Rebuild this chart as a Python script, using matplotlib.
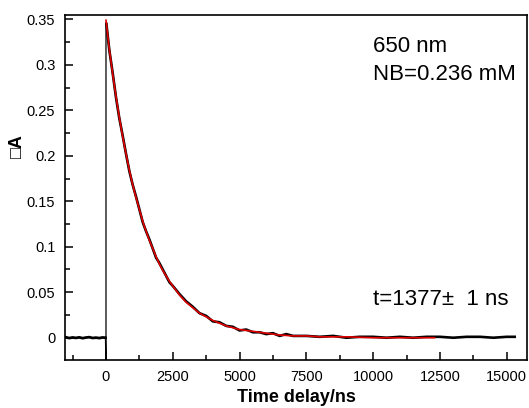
import numpy as np
import matplotlib
matplotlib.use('Agg')
import matplotlib.pyplot as plt
from matplotlib.ticker import MultipleLocator

plt.rcParams['font.family'] = ['Liberation Sans', 'DejaVu Sans']

# black trace before the laser pulse (ns, dA)
time_pre = [-1500, -1375, -1250, -1125, -1000, -875, -750, -625, -500, -375, -250, -125, -20]
signal_pre = [0.0005, -0.0004, 0.0003, -0.0002, 0.0004, -0.0005, 0.0002, 0.0006, -0.0003, 0.0001, -0.0004, 0.0003, 0.0]

# jump at t = 0
time_jump = [-20, 0, 0, 15]
signal_jump = [0.0, -0.03, 0.346, 0.345]

# black trace after the pulse
time_post = [15, 125, 250, 375, 500, 625, 750, 875, 1000, 1125, 1250, 1375, 1500,
             1625, 1750, 1875, 2000, 2125, 2250, 2375, 2500, 2750, 3000,
             3250, 3500, 3750, 4000, 4250, 4500, 4750, 5000, 5250, 5500, 5750, 6000,
             6250, 6500, 6750, 7000, 7500, 8000, 8500, 9000, 9500, 10000, 10500,
             11000, 11500, 12000, 12500, 13000, 13500, 14000, 14500, 15000, 15300]
signal_post = [0.345, 0.316, 0.291, 0.264, 0.241, 0.222, 0.202, 0.183, 0.168, 0.155,
               0.141, 0.127, 0.117, 0.108, 0.098, 0.088, 0.082, 0.075, 0.068, 0.061,
               0.057, 0.048, 0.040, 0.034, 0.027, 0.024, 0.018, 0.017, 0.013, 0.012,
               0.008, 0.009, 0.006, 0.006, 0.004, 0.005, 0.002, 0.004, 0.002, 0.002,
               0.001, 0.002, 0.000, 0.001, 0.001, 0.000, 0.001, 0.000, 0.001, 0.001,
               0.000, 0.001, 0.001, 0.000, 0.001, 0.001]

# red fit
time_fit = [0, 125, 250, 375, 500, 625, 750, 875, 1000, 1125, 1250, 1375, 1500,
            1625, 1750, 1875, 2000, 2125, 2250, 2375, 2500, 2750, 3000,
            3250, 3500, 3750, 4000, 4250, 4500, 4750, 5000, 5500, 6000, 6500, 7000,
            7500, 8000, 9000, 10000, 11000, 12300]
signal_fit = [0.349, 0.317, 0.290, 0.265, 0.242, 0.221, 0.202, 0.184, 0.168, 0.154,
              0.141, 0.128, 0.117, 0.107, 0.098, 0.089, 0.081, 0.074, 0.068, 0.062,
              0.057, 0.047, 0.039, 0.033, 0.027, 0.023, 0.019, 0.016, 0.013, 0.011,
              0.009, 0.007, 0.005, 0.003, 0.002, 0.002, 0.001, 0.001, 0.000, 0.000, 0.000]

fig = plt.figure(figsize=(5.29, 4.08), dpi=100)
ax = fig.add_axes([0.1229, 0.1176, 0.8733, 0.8456])

ax.plot(time_pre, signal_pre, color='black', linewidth=2.0)
ax.plot(time_jump, signal_jump, color='black', linewidth=0.9)
ax.plot(time_post, signal_post, color='black', linewidth=1.9)
ax.plot(time_fit, signal_fit, color='#e00000', linewidth=1.2)

ax.set_xlim(-1534, 15760)
ax.set_ylim(-0.0245, 0.3547)

ax.xaxis.set_major_locator(MultipleLocator(2500))
ax.xaxis.set_minor_locator(MultipleLocator(1250))
ax.yaxis.set_major_locator(MultipleLocator(0.05))
ax.yaxis.set_minor_locator(MultipleLocator(0.025))
ax.set_yticks([0, 0.05, 0.1, 0.15, 0.2, 0.25, 0.3, 0.35])
ax.set_yticklabels(['0', '0.05', '0.1', '0.15', '0.2', '0.25', '0.3', '0.35'])

ax.tick_params(which='major', direction='in', length=6, width=1.1, labelsize=10.5, pad=7)
ax.tick_params(which='minor', direction='in', length=3.5, width=1.1)
for s in ax.spines.values():
    s.set_linewidth(1.2)

ax.set_xlabel('Time delay/ns', fontsize=13, fontweight='bold', labelpad=4)
ax.set_ylabel('\u25a1A', fontsize=13, fontweight='bold')
ax.yaxis.set_label_coords(-0.084, 0.62)

ax.text(0.667, 0.893, '650 nm', transform=ax.transAxes, fontsize=16, va='baseline')
ax.text(0.667, 0.812, 'NB=0.236 mM', transform=ax.transAxes, fontsize=16, va='baseline')
ax.text(0.667, 0.159, 't=1377\u00b1  1 ns', transform=ax.transAxes, fontsize=16, va='baseline')

plt.savefig('out.png', dpi=100)
